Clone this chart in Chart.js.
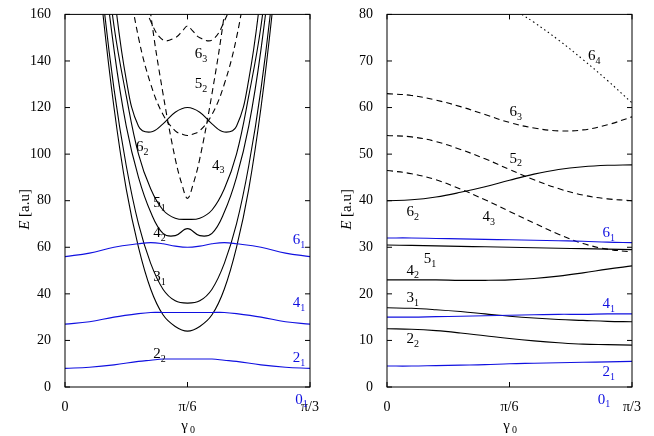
<!DOCTYPE html><html><head><script src="https://cdn.jsdelivr.net/npm/chart.js@4"></script>
<style>body{margin:0;background:#fff}#w{display:flex;width:654px;height:436px}.c{width:327px;height:436px;position:relative}</style></head><body>
<div id="w"><div class="c"><canvas id="a"></canvas></div><div class="c"><canvas id="b"></canvas></div></div>
<script>
const BL='#1010e0';
const xTickLabels={0:'0',0.5:'π/6',1:'π/3'};
// Left panel (E up to 160)
const L_x=[0,0.1,0.2,0.3,0.35,0.4,0.45,0.5,0.55,0.6,0.65,0.7,0.8,0.9,1];
const L_21=[8,8.5,9.5,11,11.5,12,12,12,12,12,11.5,11,9.5,8.5,8];
const L_41=[27,28,30,31.5,32,32,32,32,32,32,32,31.5,30,28,27];
const L_61=[56,57.5,60,61.5,62,61.5,60.5,60,60.5,61.5,62,61.5,60,57.5,56];
const Lu_x=[0.12,0.15,0.2,0.25,0.3,0.35,0.4,0.45,0.5,0.55,0.6,0.65,0.7,0.75,0.8,0.85,0.88];
const L_22=[200,165,120,85,60,42,31,26,24,26,31,42,60,85,120,165,200];
const L_31=[210,172,128,95,70,53,42,37,36,37,42,53,70,95,128,172,210];
const L_42=[230,190,145,112,90,75,66,65,68,65,66,75,90,112,145,190,230];
const L_51=[240,200,155,125,100,85,76,72.5,72,72.5,76,85,100,125,155,200,240];
const L_62=[260,225,170,132,112,109.5,113,118,120,118,113,109.5,112,132,170,225,260];
const Ld_x=[0.25,0.3,0.35,0.4,0.45,0.48,0.5,0.52,0.55,0.6,0.65,0.7,0.75];
const L_43=[260,205,160,126,98,86,81,86,98,126,160,205,260];
const L_52=[180,150,130,117,110,108.5,108,108.5,110,117,130,150,180];
const L_63=[200,172,157,149,150,153,155,153,150,149,157,172,200];
// Right panel (E up to 80)
const R_x=[0,0.1,0.2,0.3,0.4,0.5,0.6,0.7,0.8,0.9,1];
const R_21=[4.5,4.5,4.6,4.7,4.8,5,5.1,5.2,5.3,5.4,5.5];
const R_22=[12.5,12.4,12.1,11.6,11,10.4,9.9,9.5,9.2,9.1,9];
const R_41=[15,15,15.1,15.2,15.3,15.4,15.5,15.6,15.6,15.7,15.7];
const R_31=[17,16.9,16.6,16.2,15.7,15.2,14.8,14.5,14.3,14.1,14];
const R_42=[23,23,23,22.9,22.9,23,23.3,23.8,24.5,25.3,26];
const R_51=[30.5,30.4,30.3,30.2,30.1,30,29.9,29.8,29.7,29.6,29.5];
const R_61=[32,32,31.9,31.8,31.7,31.6,31.5,31.4,31.3,31.1,31];
const R_62=[40,40.2,40.8,41.8,43,44.4,45.7,46.7,47.3,47.6,47.7];
const R_43=[46.5,45.8,44.5,42.5,40.2,37.7,35.2,32.8,30.8,29.6,29];
const R_52=[54,53.7,52.7,51,49,46.7,44.5,42.6,41.2,40.4,40];
const R_63=[63,62.6,61.6,60.2,58.5,56.8,55.6,55,55.2,56.3,58];
const R64_x=[0.55,0.6,0.7,0.8,0.9,1];
const R_64=[80,78.3,74.5,70.3,65.8,61];

const pts=(xs,ys)=>xs.map((x,i)=>({x,y:ys[i]}));
const ds=(xs,ys,c,dash)=>({data:pts(xs,ys),borderColor:c,borderWidth:1.1,borderDash:dash||[],pointRadius:0,tension:0.4,fill:false});
const F='"Liberation Serif","DejaVu Serif",serif';

function labelPlugin(labels){return{id:'lbl',afterDraw(ch){
 const c=ch.ctx,xs=ch.scales.x,ys=ch.scales.y,a=ch.chartArea;c.save();
 c.strokeStyle='#000';c.lineWidth=1;c.beginPath();
 ys.ticks.forEach(t=>{const p=ys.getPixelForValue(t.value);c.moveTo(a.left,p);c.lineTo(a.left+5,p);c.moveTo(a.right,p);c.lineTo(a.right-5,p);});
 xs.ticks.forEach(t=>{const p=xs.getPixelForValue(t.value);c.moveTo(p,a.bottom);c.lineTo(p,a.bottom-5);c.moveTo(p,a.top);c.lineTo(p,a.top+5);});
 c.stroke();
 c.strokeRect(a.left,a.top,a.right-a.left,a.bottom-a.top);
 labels.forEach(([m,s,x,y,col])=>{const px=xs.getPixelForValue(x),py=ys.getPixelForValue(y);
  c.fillStyle=col||'#000';c.font='15px '+F;c.textBaseline='middle';c.textAlign='left';c.fillText(m,px,py);
  const w=c.measureText(m).width;c.font='10px '+F;c.fillText(s,px+w,py+5);});
 c.fillStyle='#000';c.font='15px '+F;c.textAlign='center';c.textBaseline='middle';
 const cx=(a.left+a.right)/2;c.fillText('γ',cx-3,426);c.font='10px '+F;c.fillText('0',cx+5,430);
 c.translate(a.left-40,(a.top+a.bottom)/2);c.rotate(-Math.PI/2);c.font='italic 15px '+F;c.textAlign='right';c.fillText('E',-20,0);
 c.font='15px '+F;c.textAlign='left';c.fillText(' [a.u]',-20,0);
 c.restore();}}}

function opts(max,step,padR){return{responsive:true,maintainAspectRatio:false,animation:false,
 layout:{padding:{top:5,right:padR,left:0,bottom:0}},plugins:{legend:{display:false},tooltip:{enabled:false}},
 scales:{x:{type:'linear',min:0,max:1,afterFit:s=>{s.height=49},afterBuildTicks:s=>{s.ticks=[{value:0},{value:0.5},{value:1}]},
  grid:{display:false},border:{display:false},ticks:{color:'#000',font:{family:F,size:14},padding:4,callback:v=>xTickLabels[v]}},
  y:{min:0,max:max,afterFit:s=>{s.width=padR==17?65:60},grid:{display:false},border:{display:false},
  ticks:{stepSize:step,color:'#000',font:{family:F,size:14},padding:6}}}}}

new Chart(document.getElementById('a'),{type:'line',data:{datasets:[
 ds(L_x,L_21,BL),ds(L_x,L_41,BL),ds(L_x,L_61,BL),
 ds(Lu_x,L_22,'#000'),ds(Lu_x,L_31,'#000'),ds(Lu_x,L_42,'#000'),ds(Lu_x,L_51,'#000'),ds(Lu_x,L_62,'#000'),
 ds(Ld_x,L_43,'#000',[6,4]),ds(Ld_x,L_52,'#000',[6,4]),ds(Ld_x,L_63,'#000',[6,4])]},
 options:opts(160,20,17),plugins:[labelPlugin([
 ['2','1',0.93,12.5,BL],['4','1',0.93,36,BL],['6','1',0.93,63,BL],['0','1',0.94,-5.5,BL],
 ['2','2',0.36,14],['3','1',0.36,47],['4','2',0.36,66],['5','1',0.36,79],['6','2',0.29,103],
 ['4','3',0.6,95],['5','2',0.53,130],['6','3',0.53,143]])]});

new Chart(document.getElementById('b'),{type:'line',data:{datasets:[
 ds(R_x,R_21,BL),ds(R_x,R_41,BL),ds(R_x,R_61,BL),
 ds(R_x,R_22,'#000'),ds(R_x,R_31,'#000'),ds(R_x,R_42,'#000'),ds(R_x,R_51,'#000'),ds(R_x,R_62,'#000'),
 ds(R_x,R_43,'#000',[6,4]),ds(R_x,R_52,'#000',[6,4]),ds(R_x,R_63,'#000',[6,4]),ds(R64_x,R_64,'#000',[1.5,3])]},
 options:opts(80,10,22),plugins:[labelPlugin([
 ['2','1',0.88,3.2,BL],['4','1',0.88,17.8,BL],['6','1',0.88,33,BL],['0','1',0.86,-2.7,BL],
 ['2','2',0.08,10.3],['3','1',0.08,19],['4','2',0.08,25],['5','1',0.15,27.5],['6','2',0.08,37.5],
 ['4','3',0.39,36.5],['5','2',0.5,49],['6','3',0.5,59],['6','4',0.82,71]])]});
</script></body></html>
